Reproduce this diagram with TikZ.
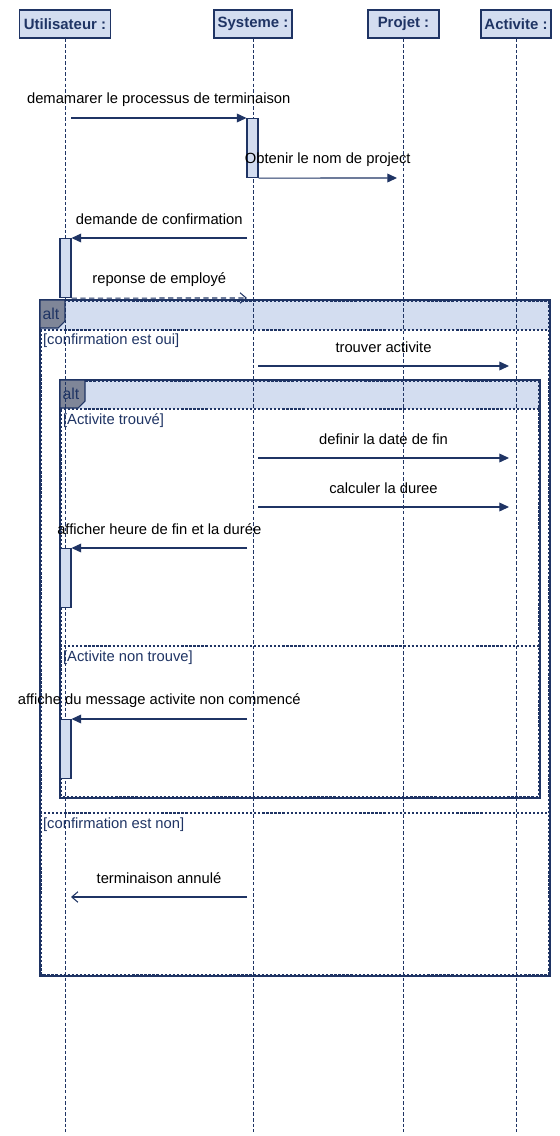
\documentclass[tikz,border=0pt]{standalone}
\usepackage{fontspec}
\setmainfont{Liberation Sans}
\usetikzlibrary{arrows.meta,positioning}

\definecolor{navy}{HTML}{1F3464}
\definecolor{paleblue}{HTML}{D3DDF0}
\definecolor{tabgrey}{HTML}{7F8698}

\begin{document}
\begin{tikzpicture}[
    x=0.02cm, y=-0.02cm,
    head/.style={
        rectangle,
        draw=navy,
        fill=paleblue,
        line width=0.7pt,
        minimum height=0.56cm,
        inner sep=0pt,
        font=\fontsize{8.5}{10}\selectfont\bfseries,
        text=navy
    },
    lifeline/.style={draw=navy, line width=0.4pt, dash pattern=on 2pt off 1.2pt},
    act/.style={
        rectangle,
        draw=navy,
        fill=paleblue,
        line width=0.6pt,
        anchor=north,
        minimum width=0.22cm,
        minimum height=1.18cm,
        inner sep=0pt
    },
    call/.style={draw=navy, line width=0.6pt, -{Triangle[length=5.5pt,width=5pt]}},
    reply/.style={draw=navy, line width=0.6pt, densely dashed, -{Straight Barb[length=3.5pt,width=6pt]}},
    back/.style={draw=navy, line width=0.6pt, -{Straight Barb[length=3.5pt,width=6pt]}},
    msg/.style={midway, yshift=0.37cm, font=\fontsize{8.4}{10}\selectfont, text=black},
    guard/.style={anchor=west, font=\fontsize{8.4}{10}\selectfont, text=navy, inner sep=1pt},
    frame/.style={draw=navy, line width=0.8pt},
    fdash/.style={draw=navy, line width=0.6pt, dash pattern=on 1.3pt off 1pt},
    tab/.style={fill=tabgrey, draw=navy, line width=0.6pt},
    tabtext/.style={font=\fontsize{9}{10}\selectfont, text=navy}
]
\useasboundingbox (0,0) rectangle (560,1136);

% Lifeline heads
\node[head, minimum width=1.82cm] (util) at (65,24) {Utilisateur :};
\node[head, minimum width=1.56cm] (sys) at (253,24) {Systeme :};
\node[head, minimum width=1.42cm] (proj) at (403.5,24) {Projet :};
\node[head, minimum width=1.40cm] (activ) at (516,24) {Activite :};

\coordinate (bottom) at (0,1132);

% Frames (drawn first, lifelines go over them)
% outer alt
\fill[paleblue] (40,300) rectangle (550,330);
\draw[frame] (40,300) rectangle (550,976);
\draw[fdash] (41.5,301.5) rectangle (548.5,974.5);
\draw[fdash] (40,330) -- (550,330);
\draw[fdash, line width=0.9pt] (40,813) -- (550,813);
\draw[tab] (40,300) -- (65,300) -- (65,321) -- (58,328) -- (40,328) -- cycle;
\node[tabtext] (alt1) at (51,314) {alt};
% inner alt
\fill[white] (60,380) rectangle (540,798);
\fill[paleblue] (60,380) rectangle (540,409);
\draw[frame] (60,380) rectangle (540,798);
\draw[fdash] (61.5,381.5) rectangle (538.5,796.5);
\draw[fdash] (60,409) -- (540,409);
\draw[fdash, line width=0.9pt] (60,646) -- (540,646);
\draw[tab] (60,380) -- (85,380) -- (85,401) -- (78,408) -- (60,408) -- cycle;
\node[tabtext] (alt2) at (71,394) {alt};

% Lifelines
\draw[lifeline] (util.south) -- (util.south |- bottom);
\draw[lifeline] (sys.south) -- (sys.south |- bottom);
\draw[lifeline] (proj.south) -- (proj.south |- bottom);
\draw[lifeline] (activ.south) -- (activ.south |- bottom);

% Guards
\node[guard] (g1) at (41,341) {[confirmation est oui]};
\node[guard] (g2) at (61,421) {[Activite trouvé]};
\node[guard] (g3) at (61,658) {[Activite non trouve]};
\node[guard] (g4) at (41,825) {[confirmation est non]};

% Activations
\node[act] (act1) at (252.5,118) {};
\node[act] (act2) at (65.5,238) {};
\node[act] (act3) at (65.5,548) {};
\node[act] (act4) at (65.5,719) {};

% Message ends
\coordinate (m1) at (71,118);
\coordinate (m2) at (397,178);
\coordinate (m3) at (247,238);
\coordinate (m4) at (247,298);
\coordinate (m5a) at (258,366);
\coordinate (m5b) at (509,366);
\coordinate (m6a) at (258,458);
\coordinate (m6b) at (509,458);
\coordinate (m7a) at (258,507);
\coordinate (m7b) at (509,507);
\coordinate (m8) at (247,548);
\coordinate (m9) at (247,719);
\coordinate (m10a) at (247,897);
\coordinate (m10b) at (71,897);

% Messages
\draw[call] (m1) -- node[msg] {demamarer le processus de terminaison} (act1.north west);
\draw[call] (act1.south east) -- node[msg] {Obtenir le nom de project} (m2);
\draw[call] (m3) -- node[msg] {demande de confirmation} (act2.north east);
\draw[reply] (act2.south east) -- node[msg] {reponse de employé} (m4);
\draw[call] (m5a) -- node[msg] {trouver activite} (m5b);
\draw[call] (m6a) -- node[msg] {definir la date de fin} (m6b);
\draw[call] (m7a) -- node[msg] {calculer la duree} (m7b);
\draw[call] (m8) -- node[msg] {afficher heure de fin et la durée} (act3.north east);
\draw[call] (m9) -- node[msg] {affiche du message activite non commencé} (act4.north east);
\draw[back] (m10a) -- node[msg] {terminaison annulé} (m10b);

\end{tikzpicture}
\end{document}
